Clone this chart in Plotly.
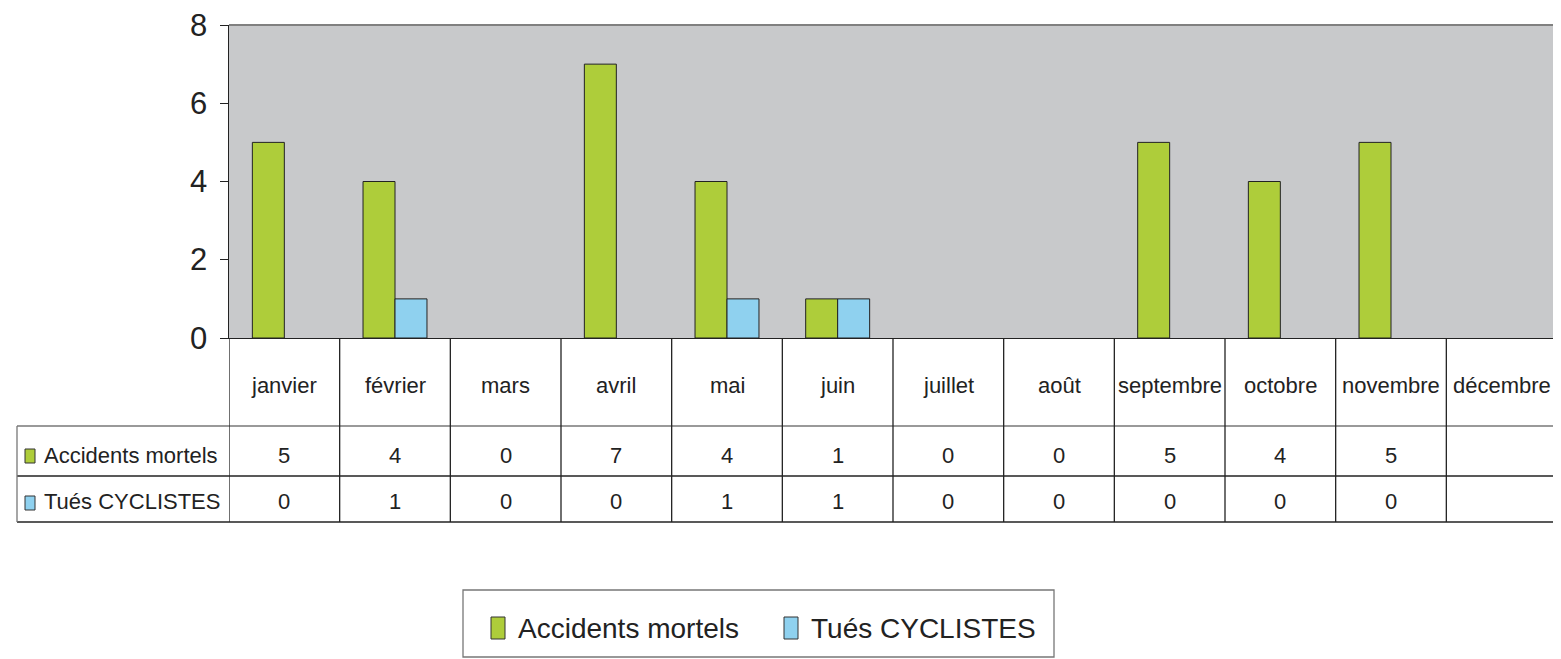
import plotly.graph_objects as go

months = ["janvier", "février", "mars", "avril", "mai", "juin", "juillet",
          "août", "septembre", "octobre", "novembre", "décembre"]
accidents = [5, 4, 0, 7, 4, 1, 0, 0, 5, 4, 5, None]
tues = [0, 1, 0, 0, 1, 1, 0, 0, 0, 0, 0, None]
series_names = ["Accidents mortels", "Tués CYCLISTES"]
y_ticks = [0, 2, 4, 6, 8]

GREEN = "#AECD3A"
BLUE = "#8FD1EF"
BG = "#C8C9CB"
FONT = "Liberation Sans, Arial, sans-serif"
TXT = "#222222"

OFF = 8  # page body margin
W, H = 1561 - OFF, 659 - OFF
L = 229 - OFF
R = W - (1557 - OFF)
T = 25 - OFF
B = H - (338 - OFF)
PW, PH = W - L - R, H - T - B


def px(xp):
    return (xp - OFF - L) / PW


def py(yp):
    return (H - B - (yp - OFF)) / PH


def outline(vals):
    return [1 if v else 0 for v in vals]


fig = go.Figure()
fig.add_trace(go.Bar(x=months, y=accidents, name=series_names[0],
                     marker=dict(color=GREEN, line=dict(color=TXT, width=outline(accidents)))))
fig.add_trace(go.Bar(x=months, y=tues, name=series_names[1],
                     marker=dict(color=BLUE, line=dict(color=TXT, width=outline(tues)))))

shapes = []
annotations = []
line_dark = dict(color=TXT, width=1.3)
line_grey = dict(color="#777777", width=1.3)

# top border of plot
shapes.append(dict(type="line", xref="paper", yref="paper", x0=px(229), x1=1, y0=1, y1=1,
                   line=dict(color="#808080", width=2)))
# right border of plot + table
shapes.append(dict(type="line", xref="paper", yref="paper", x0=1, x1=1, y0=1, y1=py(522),
                   line=line_dark))

# table horizontal lines
for yy, ln in [(426, line_grey), (476, line_dark), (522, line_dark)]:
    shapes.append(dict(type="line", xref="paper", yref="paper", x0=px(17), x1=1,
                       y0=py(yy), y1=py(yy), line=ln))
# left border of row labels
shapes.append(dict(type="line", xref="paper", yref="paper", x0=px(17), x1=px(17),
                   y0=py(426), y1=py(522), line=line_grey))
# vertical category boundaries
for i in range(len(months)):
    shapes.append(dict(type="line", xref="x", yref="paper", x0=i - 0.5, x1=i - 0.5,
                       y0=0, y1=py(522), line=line_dark))

tfont = dict(size=22, color=TXT, family=FONT)

# y tick labels
for v in y_ticks:
    annotations.append(dict(x=px(209), y=v, xref="paper", yref="y", text=str(v),
                            xanchor="right", yanchor="middle", showarrow=False,
                            font=dict(size=31, color=TXT, family=FONT)))

# month labels and values
for i, m in enumerate(months):
    annotations.append(dict(x=i, y=py(385), xref="x", yref="paper", text=m,
                            xanchor="center", yanchor="middle",
                            showarrow=False, font=tfont))
    a = accidents[i]
    t = tues[i]
    annotations.append(dict(x=i, y=py(455), xref="x", yref="paper",
                            text="" if a is None else str(a),
                            xanchor="center", yanchor="middle",
                            showarrow=False, font=tfont))
    annotations.append(dict(x=i, y=py(501), xref="x", yref="paper",
                            text="" if t is None else str(t),
                            xanchor="center", yanchor="middle",
                            showarrow=False, font=tfont))

# row labels with swatches
row_specs = [(series_names[0], GREEN, 449, 463, 455), (series_names[1], BLUE, 496, 510, 501)]
for name, col, y0, y1, yc in row_specs:
    shapes.append(dict(type="rect", xref="paper", yref="paper", x0=px(25), x1=px(35),
                       y0=py(y1), y1=py(y0), fillcolor=col, line=dict(color="#333333", width=1)))
    annotations.append(dict(x=px(42), y=py(yc), xref="paper", yref="paper", text=name,
                            xanchor="left", yanchor="middle", showarrow=False,
                            font=tfont))

# legend box (manual)
shapes.append(dict(type="rect", xref="paper", yref="paper", x0=px(463), x1=px(1054),
                   y0=py(657), y1=py(590), line=dict(color="#777777", width=1.3),
                   fillcolor="rgba(0,0,0,0)"))
leg_specs = [(series_names[0], GREEN, 491, 505, 516), (series_names[1], BLUE, 784, 798, 809)]
for name, col, x0, x1, xt in leg_specs:
    shapes.append(dict(type="rect", xref="paper", yref="paper", x0=px(x0), x1=px(x1),
                       y0=py(639), y1=py(617), fillcolor=col, line=dict(color="#333333", width=1)))
    annotations.append(dict(x=px(xt), y=py(628), xref="paper", yref="paper", text=name,
                            xanchor="left", yanchor="middle", showarrow=False,
                            font=dict(size=28, color=TXT, family=FONT)))

fig.update_layout(
    width=W, height=H,
    margin=dict(l=L, r=R, t=T, b=B, pad=0),
    paper_bgcolor="white",
    plot_bgcolor=BG,
    barmode="group",
    bargap=0.422,
    bargroupgap=0,
    showlegend=False,
    shapes=shapes,
    annotations=annotations,
    font=dict(family=FONT, color=TXT),
)
fig.update_xaxes(range=[-0.5, len(months) - 0.5], showticklabels=False, ticks="",
                 showline=True, linecolor=TXT, linewidth=1.3, showgrid=False,
                 zeroline=False)
fig.update_yaxes(range=[0, 8], tickvals=y_ticks, ticks="outside", ticklen=8,
                 tickcolor=TXT, tickwidth=1.3, showline=True, linecolor=TXT,
                 linewidth=1.3, showgrid=False, zeroline=False,
                 showticklabels=False)

fig.write_html("out.html")
